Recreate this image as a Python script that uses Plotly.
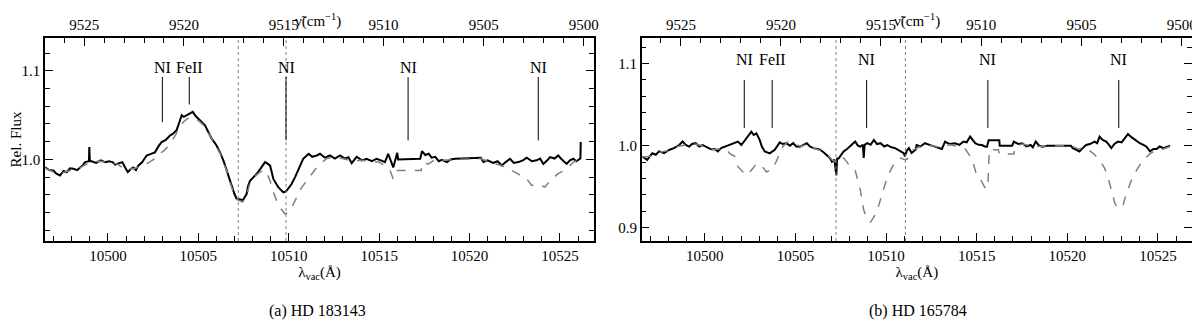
import plotly.graph_objects as go

# ------------------------------------------------------------
# Data: (vacuum wavelength [A], relative flux)
# ------------------------------------------------------------
spec_a_obs = [
    (10496.52, 0.991), (10496.75, 0.988), (10496.98, 0.9875), (10497.15, 0.984), (10497.35, 0.982),
    (10497.55, 0.987), (10497.72, 0.9856), (10497.9, 0.990), (10498.09, 0.9894), (10498.3, 0.988),
    (10498.46, 0.991), (10498.6, 0.993), (10498.73, 0.997), (10498.95, 0.998), (10498.97, 1.014),
    (10499.0, 0.998), (10499.1, 0.998), (10499.35, 0.996), (10499.6, 0.999), (10499.85, 0.997),
    (10500.06, 0.998), (10500.25, 0.997), (10500.4, 0.9943), (10500.6, 0.996), (10500.8, 0.997),
    (10500.95, 0.991), (10501.1, 0.9857), (10501.25, 0.989), (10501.4, 0.991), (10501.55, 0.988),
    (10501.68, 0.993), (10501.9, 0.997), (10502.14, 1.0045), (10502.35, 1.006), (10502.6, 1.008),
    (10502.8, 1.015), (10502.97, 1.0196), (10503.2, 1.022), (10503.43, 1.027), (10503.6, 1.029),
    (10503.8, 1.033), (10503.95, 1.042), (10504.08, 1.050), (10504.2, 1.048), (10504.36, 1.050),
    (10504.5, 1.052), (10504.69, 1.0536), (10504.85, 1.049), (10505.0, 1.046), (10505.2, 1.042),
    (10505.37, 1.0385), (10505.55, 1.031), (10505.74, 1.0234), (10506.0, 1.016), (10506.2, 1.008),
    (10506.4, 0.998), (10506.57, 0.9875), (10506.7, 0.978), (10506.85, 0.9687), (10507.0, 0.961),
    (10507.12, 0.9555), (10507.3, 0.955), (10507.45, 0.9536), (10507.55, 0.957), (10507.67, 0.961),
    (10507.75, 0.970), (10507.86, 0.976), (10508.05, 0.980), (10508.23, 0.9838), (10508.45, 0.990),
    (10508.69, 0.997), (10508.85, 0.995), (10508.97, 0.993), (10509.15, 0.978), (10509.3, 0.972),
    (10509.42, 0.9687), (10509.55, 0.966), (10509.7, 0.963), (10509.85, 0.964), (10509.98, 0.967),
    (10510.15, 0.972), (10510.35, 0.980), (10510.6, 0.992), (10510.8, 1.0008), (10511.1, 1.0064),
    (10511.3, 1.003), (10511.55, 1.0045), (10511.73, 1.0064), (10512.0, 1.002), (10512.28, 1.0045),
    (10512.55, 1.001), (10512.84, 1.0045), (10513.1, 1.001), (10513.3, 1.0026), (10513.48, 0.9958),
    (10513.76, 1.003), (10514.05, 0.999), (10514.3, 1.0008), (10514.6, 0.998), (10514.86, 1.0008),
    (10515.1, 0.999), (10515.32, 0.997), (10515.5, 1.0064), (10515.65, 0.998), (10515.78, 0.991),
    (10515.9, 1.0), (10516.0, 1.0075), (10516.05, 1.0), (10517.27, 1.0008), (10517.37, 1.0094),
    (10517.55, 1.005), (10517.74, 1.0064), (10517.9, 1.002), (10518.1, 1.003), (10518.3, 0.998),
    (10518.47, 0.9996), (10518.75, 0.997), (10518.95, 1.0), (10519.2, 1.0008), (10520.62, 1.002),
    (10520.77, 0.997), (10521.0, 0.999), (10521.3, 0.996), (10521.55, 0.998), (10521.78, 0.9932),
    (10522.0, 0.997), (10522.24, 1.0008), (10522.45, 0.996), (10522.7, 0.997), (10522.95, 0.999),
    (10523.16, 1.002), (10523.45, 0.998), (10523.71, 0.999), (10523.9, 1.001), (10524.08, 0.995),
    (10524.3, 0.999), (10524.45, 1.0026), (10524.7, 1.001), (10524.9, 1.0045), (10525.15, 0.999),
    (10525.37, 0.995), (10525.55, 0.999), (10525.74, 1.0008), (10525.9, 0.998), (10526.07, 1.0008),
    (10526.13, 1.001), (10526.15, 1.0196),
]

spec_a_tell = [
    (10496.52, 0.990), (10497.0, 0.986), (10497.5, 0.985), (10498.0, 0.988), (10498.5, 0.991),
    (10499.0, 0.997), (10499.5, 0.998), (10500.0, 0.997), (10500.5, 0.995), (10501.0, 0.988),
    (10501.5, 0.990), (10501.9, 0.993), (10502.3, 0.997), (10502.6, 1.001), (10502.86, 1.0064),
    (10503.1, 1.010), (10503.3, 1.014), (10503.55, 1.021), (10503.8, 1.029), (10504.0, 1.036),
    (10504.16, 1.042), (10504.4, 1.046), (10504.6, 1.048), (10504.8, 1.046), (10505.0, 1.044),
    (10505.37, 1.037), (10505.74, 1.023), (10506.2, 1.007), (10506.57, 0.987), (10506.85, 0.968),
    (10507.12, 0.955), (10507.45, 0.952), (10507.67, 0.959), (10507.86, 0.974), (10508.2, 0.982),
    (10508.4, 0.9857), (10508.7, 0.988), (10508.97, 0.976), (10509.15, 0.963), (10509.33, 0.9536),
    (10509.55, 0.945), (10509.8, 0.9385), (10510.07, 0.942), (10510.25, 0.949), (10510.44, 0.957),
    (10510.7, 0.968), (10510.99, 0.976), (10511.2, 0.982), (10511.55, 0.991), (10511.8, 0.996),
    (10512.1, 1.001), (10512.5, 1.002), (10513.0, 1.001), (10513.5, 0.998), (10514.0, 0.999),
    (10514.5, 0.998), (10515.0, 0.997), (10515.3, 0.993), (10515.6, 0.988), (10515.78, 0.978),
    (10515.9, 0.985), (10516.0, 0.9875), (10517.33, 0.9875), (10517.37, 0.996), (10517.74, 0.995),
    (10518.1, 1.0), (10518.5, 0.999), (10519.2, 1.0), (10520.62, 1.001), (10521.0, 0.998),
    (10521.5, 0.995), (10522.05, 0.991), (10522.5, 0.9857), (10522.8, 0.982), (10523.16, 0.978),
    (10523.44, 0.9706), (10523.8, 0.972), (10524.17, 0.9687), (10524.45, 0.976), (10524.9, 0.984),
    (10525.37, 0.989), (10525.74, 0.997), (10526.07, 1.0),
]

spec_b_obs = [
    (10496.56, 0.9866), (10496.7, 0.985), (10496.83, 0.9826), (10497.0, 0.988), (10497.11, 0.9907),
    (10497.3, 0.989), (10497.48, 0.993), (10497.75, 0.991), (10498.03, 0.9948), (10498.3, 0.997),
    (10498.59, 1.0008), (10498.78, 1.005), (10498.95, 1.001), (10499.14, 0.9988), (10499.3, 1.002),
    (10499.5, 1.003), (10499.7, 0.999), (10499.89, 1.0008), (10500.1, 0.998), (10500.35, 0.9956),
    (10500.55, 0.996), (10500.72, 0.993), (10500.9, 0.997), (10501.09, 0.9988), (10501.3, 1.0),
    (10501.56, 1.003), (10501.83, 1.005), (10502.02, 1.0008), (10502.2, 1.006), (10502.39, 1.011),
    (10502.57, 1.017), (10502.7, 1.013), (10502.85, 1.015), (10503.03, 1.007), (10503.15, 0.999),
    (10503.31, 0.993), (10503.58, 0.9907), (10503.86, 0.995), (10504.14, 1.004), (10504.3, 1.002),
    (10504.5, 1.003), (10504.7, 1.0), (10504.88, 1.003), (10505.05, 0.999), (10505.25, 0.9988),
    (10505.45, 1.001), (10505.63, 1.003), (10505.8, 0.999), (10506.0, 0.997), (10506.2, 0.996),
    (10506.36, 0.995), (10506.55, 0.992), (10506.74, 0.9887), (10506.9, 0.985), (10507.02, 0.9805),
    (10507.15, 0.983), (10507.26, 0.964), (10507.3, 0.984), (10507.39, 0.9846), (10507.5, 0.988),
    (10507.66, 0.993), (10507.85, 0.996), (10508.02, 0.9988), (10508.15, 1.002), (10508.3, 1.005),
    (10508.45, 1.0), (10508.58, 0.9988), (10508.72, 1.001), (10508.77, 0.985), (10508.82, 1.001),
    (10508.96, 1.003), (10509.15, 1.001), (10509.33, 1.007), (10509.5, 1.002), (10509.7, 1.003),
    (10509.9, 0.999), (10510.07, 1.0008), (10510.3, 0.998), (10510.5, 0.997), (10510.75, 0.994),
    (10510.98, 0.991), (10511.04, 0.987), (10511.15, 0.994), (10511.26, 0.997), (10511.41, 0.991),
    (10511.63, 0.995), (10511.69, 1.0008), (10511.9, 0.999), (10512.15, 1.003), (10512.4, 1.001),
    (10512.71, 0.9988), (10512.9, 0.998), (10513.08, 0.996), (10513.26, 1.005), (10513.5, 1.002),
    (10513.81, 1.003), (10514.05, 1.001), (10514.28, 1.005), (10514.45, 1.004), (10514.64, 1.011),
    (10514.8, 1.006), (10514.92, 1.003), (10515.1, 1.001), (10515.29, 1.0008), (10515.45, 0.999),
    (10515.57, 0.9988), (10515.66, 1.0065), (10516.25, 1.0065), (10516.27, 1.0), (10516.96, 1.0),
    (10517.05, 1.005), (10517.3, 1.002), (10517.51, 1.003), (10517.75, 0.999), (10517.98, 1.0008),
    (10518.1, 0.998), (10518.26, 1.005), (10518.45, 1.0), (10518.63, 0.9988), (10518.9, 1.0),
    (10520.2, 1.0), (10520.3, 0.997), (10520.5, 0.995), (10520.67, 0.993), (10520.85, 0.997),
    (10521.04, 1.0008), (10521.25, 1.002), (10521.5, 1.005), (10521.65, 1.003), (10521.78, 1.011),
    (10521.95, 1.007), (10522.15, 1.005), (10522.3, 1.001), (10522.43, 0.997), (10522.6, 1.002),
    (10522.8, 1.005), (10523.0, 1.004), (10523.17, 1.009), (10523.35, 1.0143), (10523.5, 1.011),
    (10523.63, 1.009), (10523.8, 1.006), (10524.0, 1.003), (10524.2, 1.001), (10524.37, 0.9988),
    (10524.56, 0.993), (10524.75, 0.996), (10524.93, 0.996), (10525.1, 0.999), (10525.3, 0.997),
    (10525.5, 0.999), (10525.67, 1.0),
]

spec_b_tell = [
    (10496.56, 0.986), (10497.0, 0.987), (10497.5, 0.992), (10498.0, 0.994), (10498.5, 0.999),
    (10499.0, 1.001), (10499.5, 1.002), (10500.0, 0.999), (10500.5, 0.995), (10501.0, 0.997),
    (10501.2, 0.995), (10501.37, 0.9907), (10501.65, 0.987), (10501.83, 0.9744), (10502.11, 0.968),
    (10502.3, 0.964), (10502.57, 0.970), (10502.85, 0.978), (10503.13, 0.976), (10503.4, 0.968),
    (10503.77, 0.972), (10504.05, 0.987), (10504.3, 0.9988), (10504.6, 1.005), (10504.9, 1.002),
    (10505.3, 0.999), (10505.7, 1.002), (10506.0, 0.997), (10506.4, 0.994), (10506.8, 0.988),
    (10507.05, 0.982), (10507.3, 0.980), (10507.5, 0.984), (10507.66, 0.985), (10507.85, 0.980),
    (10508.02, 0.974), (10508.3, 0.970), (10508.45, 0.958), (10508.58, 0.946), (10508.77, 0.9216),
    (10508.96, 0.9114), (10509.14, 0.907), (10509.33, 0.913), (10509.52, 0.9216), (10509.8, 0.942),
    (10510.07, 0.962), (10510.44, 0.978), (10510.81, 0.985), (10511.04, 0.983), (10511.18, 0.984),
    (10511.5, 0.995), (10511.9, 0.999), (10512.5, 1.0), (10513.0, 0.998), (10513.5, 1.001),
    (10514.0, 0.999), (10514.37, 0.996), (10514.64, 0.987), (10514.83, 0.977), (10515.0, 0.964),
    (10515.29, 0.956), (10515.5, 0.947), (10515.62, 0.952), (10515.7, 0.995), (10516.2, 0.995),
    (10516.25, 0.990), (10517.05, 0.990), (10517.14, 0.999), (10517.5, 1.002), (10518.0, 1.0),
    (10518.6, 0.999), (10518.9, 1.0), (10520.2, 1.0), (10520.6, 0.996), (10521.04, 0.997),
    (10521.41, 0.991), (10521.78, 0.983), (10522.06, 0.9724), (10522.34, 0.954), (10522.62, 0.930),
    (10522.8, 0.9236), (10523.08, 0.928), (10523.26, 0.942), (10523.54, 0.958), (10523.82, 0.970),
    (10524.19, 0.983), (10524.56, 0.990), (10524.9, 0.995), (10525.3, 0.996), (10525.67, 0.999),
]

# line identifications
line_names_a = ['NI', 'FeII', 'NI', 'NI', 'NI']
line_wl_a = [10503.01, 10504.50, 10509.85, 10516.60, 10523.80]
line_names_b = ['NI', 'FeII', 'NI', 'NI', 'NI']
line_wl_b = [10502.18, 10503.72, 10508.93, 10515.62, 10522.84]

# dotted reference wavelengths
dotted_wl_a = [10507.21, 10509.85]
dotted_wl_b = [10507.24, 10511.07]

captions = ['(a) HD 183143', '(b) HD 165784']

# axis ticks
wl_major = [10500, 10505, 10510, 10515, 10520, 10525]
wn_major = [9500, 9505, 9510, 9515, 9520, 9525]
wn_minor = list(range(9499, 9528))

# ------------------------------------------------------------
FONT = 'Liberation Serif'
BLACK = '#000000'
GREY = '#808080'

WL_RANGE = [10496.52, 10526.88]


def wn_to_wl(v):
    return 1e8 / v


fig = go.Figure()

panels = [
    dict(obs=spec_a_obs, tell=spec_a_tell, names=line_names_a, wl=line_wl_a, dots=dotted_wl_a,
         xb='x', xt='x3', y='y', text_y=1.104, top_y=1.093, bottoms=[1.042, 1.062, 1.0215, 1.0215, 1.0215]),
    dict(obs=spec_b_obs, tell=spec_b_tell, names=line_names_b, wl=line_wl_b, dots=dotted_wl_b,
         xb='x2', xt='x4', y='y2', text_y=1.1045, top_y=1.080, bottoms=[1.0216] * 5),
]

for p in panels:
    tw, tf = zip(*p['tell'])
    fig.add_trace(go.Scatter(
        x=tw, y=tf, mode='lines', xaxis=p['xt'], yaxis=p['y'],
        line=dict(color=GREY, width=1.5, dash='dash'), showlegend=False, hoverinfo='skip',
    ))
    ow, of = zip(*p['obs'])
    fig.add_trace(go.Scatter(
        x=ow, y=of, mode='lines', xaxis=p['xb'], yaxis=p['y'],
        line=dict(color=BLACK, width=2), showlegend=False,
    ))
    for wl in p['dots']:
        fig.add_shape(type='line', xref=p['xb'], yref=p['y'] + ' domain', x0=wl, x1=wl, y0=0, y1=1,
                      line=dict(color='#808080', width=1, dash='dot'))
    for name, wl, yb in zip(p['names'], p['wl'], p['bottoms']):
        fig.add_shape(type='line', xref=p['xb'], yref=p['y'], x0=wl, x1=wl, y0=yb, y1=p['top_y'],
                      line=dict(color=BLACK, width=1))
        fig.add_annotation(x=wl, y=p['text_y'], xref=p['xb'], yref=p['y'], text=name,
                           showarrow=False, font=dict(size=16, family=FONT, color=BLACK))

tick_common = dict(
    showline=True, linecolor=BLACK, linewidth=1.5, ticks='inside', ticklen=8, tickwidth=1.2,
    tickcolor=BLACK, showgrid=False, zeroline=False, automargin=False,
    tickfont=dict(size=15, family=FONT, color=BLACK),
)


def bottom_axis(domain, anchor):
    return dict(
        tick_common, domain=domain, range=WL_RANGE, anchor=anchor,
        tickmode='array', tickvals=wl_major, ticktext=[str(v) for v in wl_major],
        minor=dict(ticks='inside', ticklen=5, tickwidth=1.2, tickcolor=BLACK, dtick=1, tick0=10500, showgrid=False),
        title=dict(text='λ<sub>vac</sub>(Å)', font=dict(size=15, family=FONT, color=BLACK), standoff=4),
    )


def top_axis(over, anchor):
    return dict(
        tick_common, overlaying=over, side='top', range=WL_RANGE, anchor=anchor,
        tickmode='array', tickvals=[wn_to_wl(v) for v in wn_major], ticktext=[str(v) for v in wn_major],
        minor=dict(ticks='inside', ticklen=5, tickwidth=1.2, tickcolor=BLACK,
                   tickmode='array', tickvals=[wn_to_wl(v) for v in wn_minor], showgrid=False),
    )


def left_axis(anchor, rng, title):
    return dict(
        tick_common, domain=[0, 1], range=rng, anchor=anchor, mirror='ticks',
        tick0=1.0, dtick=0.1, tickformat='.1f',
        minor=dict(ticks='inside', ticklen=5, tickwidth=1.2, tickcolor=BLACK, dtick=0.02, tick0=1.0, showgrid=False),
        title=dict(text=title, font=dict(size=15, family=FONT, color=BLACK), standoff=6),
    )


# the page body adds an 8px offset, so the figure is 8px smaller than the window
fig.update_layout(
    width=1192, height=325,
    margin=dict(l=37, r=8, t=30, b=92),
    paper_bgcolor='white', plot_bgcolor='white',
    font=dict(family=FONT, color=BLACK),
    showlegend=False,
    xaxis=bottom_axis([0.0, 0.4786], 'y'),
    xaxis2=bottom_axis([0.5202, 1.0], 'y2'),
    xaxis3=top_axis('x', 'y'),
    xaxis4=top_axis('x2', 'y2'),
    yaxis=left_axis('x', [0.908, 1.137], 'Rel. Flux'),
    yaxis2=left_axis('x2', [0.884, 1.131], ''),
)

# top axis titles, placed between the 9515 and 9510 labels like the original
for xc in [0.238, 0.7605]:
    fig.add_annotation(x=xc, y=1.145, xref='paper', yref='paper', text='ν̃(cm<sup>−1</sup>)',
                       showarrow=False, xanchor='center', yanchor='top',
                       font=dict(size=15, family=FONT, color=BLACK))

for cap, xc in zip(captions, [0.238, 0.761]):
    fig.add_annotation(x=xc, y=-0.40, xref='paper', yref='paper', text=cap, showarrow=False,
                       xanchor='center', font=dict(size=16, family=FONT, color=BLACK))

fig.write_html("out.html")
